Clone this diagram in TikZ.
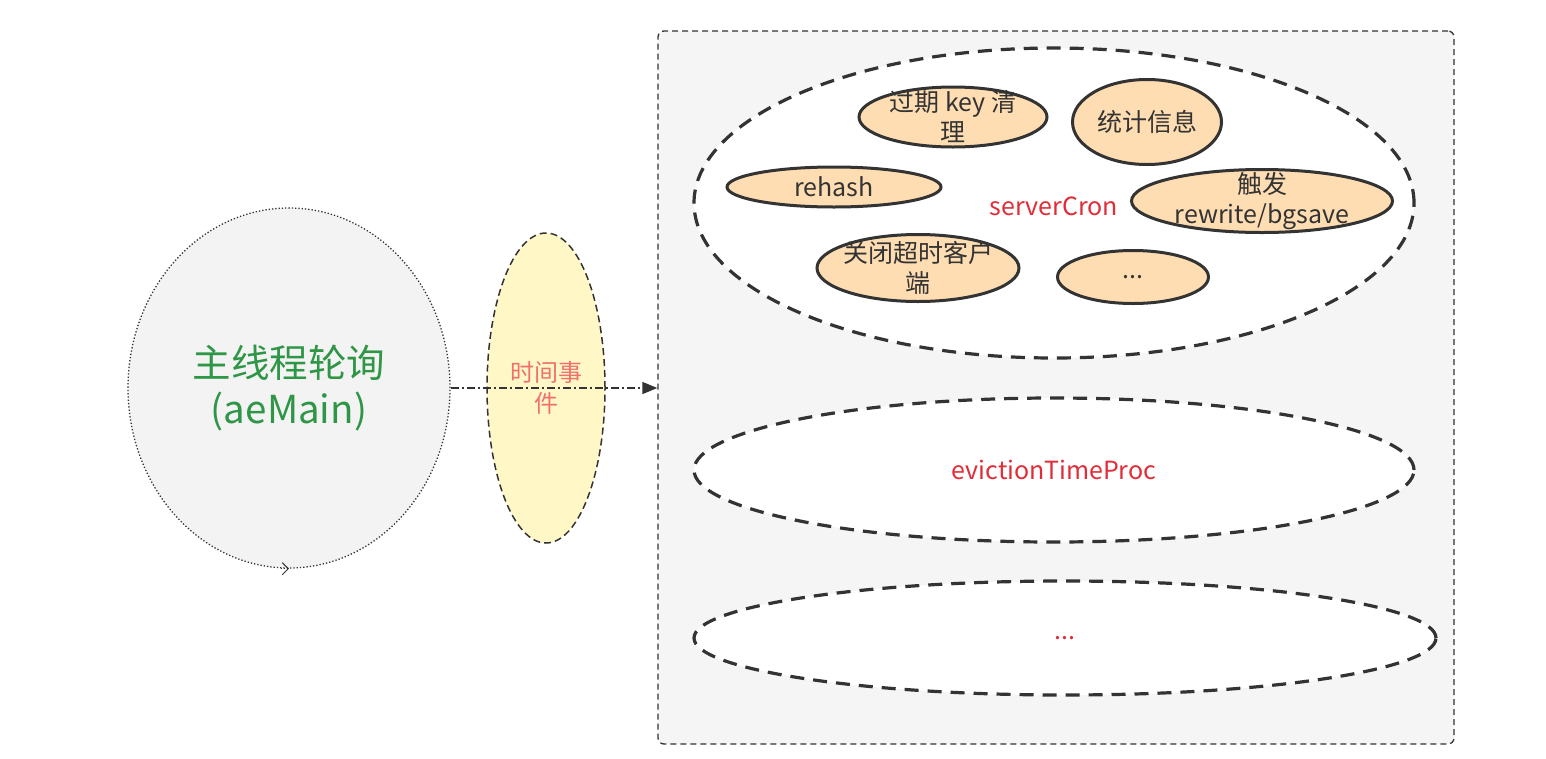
\documentclass[tikz,border=0pt]{standalone}
\usepackage{fontspec}
\setmainfont{Noto Sans CJK SC}
\usetikzlibrary{shapes,arrows.meta,positioning}
\definecolor{panelgray}{RGB}{245,245,245}
\definecolor{maingray}{RGB}{243,243,243}
\definecolor{paleyellow}{RGB}{255,248,198}
\definecolor{peach}{RGB}{255,221,178}
\definecolor{linedark}{RGB}{51,51,51}
\definecolor{maingreen}{RGB}{46,150,70}
\definecolor{cronred}{RGB}{225,45,55}
\definecolor{salmon}{RGB}{240,112,112}

\begin{document}
\begin{tikzpicture}[x=1pt,y=-1pt]

  \tikzstyle{every node}=[align=center,inner sep=0pt]
  \tikzstyle{task}=[ellipse,draw=linedark,line width=3pt,fill=peach,inner sep=-12pt,
    text=linedark,font=\fontsize{25}{30}\selectfont]
  \tikzstyle{group}=[ellipse,draw=linedark,line width=3.2pt,fill=white,
    dash pattern=on 14pt off 9pt,text=cronred,font=\fontsize{25}{30}\selectfont]

  \useasboundingbox (0,0) rectangle (1546,758);

  \node[draw=linedark,fill=panelgray,line width=1.3pt,dash pattern=on 6pt off 4pt,
    rounded corners=6pt,minimum width=796pt,minimum height=713pt] (p) at (1056,387.5) {};

  \node[ellipse,draw=linedark,fill=maingray,line width=1.3pt,dotted,
    minimum width=322pt,minimum height=360pt,text=maingreen,
    font=\fontsize{38.5}{46}\selectfont] (m) at (289,388)
    {主线程轮询\\(aeMain)};
  \draw[linedark,line width=1pt,dotted,-{Straight Barb[length=6pt,width=12pt]}]
    ([xshift=-8pt]m.south) -- (m.south);

  \node[ellipse,draw=linedark,fill=paleyellow,line width=1.5pt,
    dash pattern=on 7pt off 4pt,minimum width=118pt,minimum height=310pt,
    text=salmon,font=\fontsize{24}{31}\selectfont] (e) at (546,388)
    {时间事\\件};

  % serverCron and its jobs
  \node[group,minimum width=720pt,minimum height=310pt] (c) at (1054,203) {};
  \node[text=cronred,font=\fontsize{25}{30}\selectfont] (cl) at (1054,206) {serverCron};
  \node[task,minimum width=188pt,minimum height=60pt] (t1) at (953,117) {过期 key 清\\理};
  \node[task,minimum width=149pt,minimum height=85pt] (t2) at (1147,122) {统计信息};
  \node[task,minimum width=214pt,minimum height=40pt] (t3) at (834,187) {rehash};
  \node[task,minimum width=261pt,minimum height=63pt] (t4) at (1262,201) {触发\\rewrite/bgsave};
  \node[task,minimum width=202pt,minimum height=67pt] (t5) at (918,268) {关闭超时客户\\端};
  \node[task,minimum width=151pt,minimum height=53pt] (t6) at (1133,277) {...};

  \node[group,minimum width=720pt,minimum height=144pt] (v) at (1054,470) {evictionTimeProc};
  \node[group,minimum width=742pt,minimum height=114pt] (o) at (1065,638) {...};

  \draw[linedark,line width=1.3pt,dash pattern=on 8pt off 3pt on 2pt off 3pt,
    -{Triangle[length=15pt,width=12pt]}] (m.east) -- (m.east -| p.west);

\end{tikzpicture}
\end{document}
